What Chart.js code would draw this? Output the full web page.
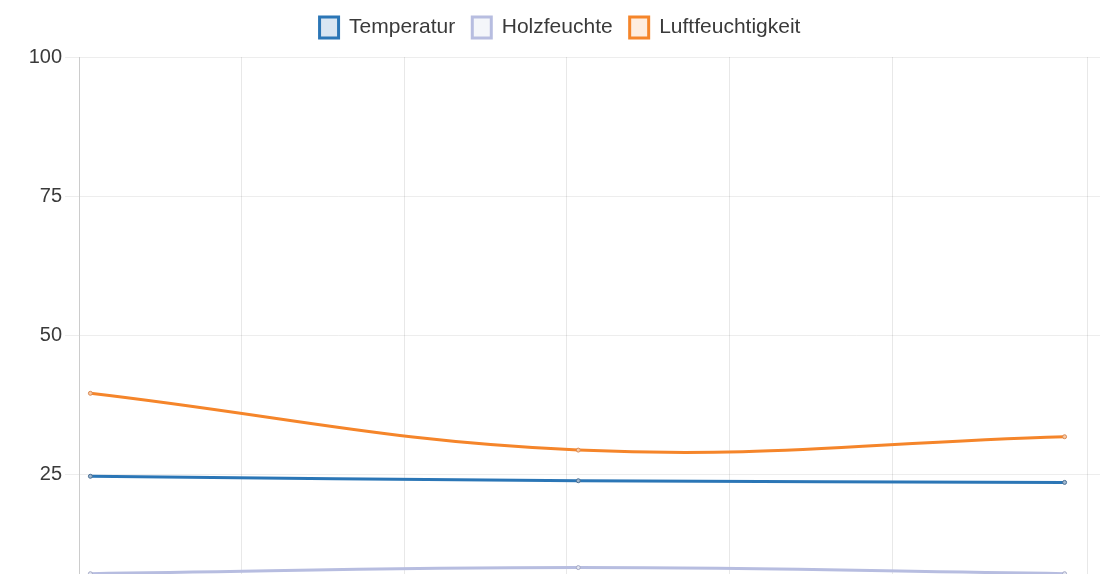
<!DOCTYPE html>
<html lang="de">
<head>
<meta charset="utf-8">
<title>Messwerte</title>
<script src="https://cdn.jsdelivr.net/npm/chart.js@4/dist/chart.umd.min.js"></script>
<style>
  html, body { margin: 0; padding: 0; background: #fff; overflow: hidden; }
  #wrap { position: absolute; left: 0; top: 0; width: 1120px; height: 657px; }
</style>
</head>
<body>
<div id="wrap"><canvas id="sensorChart"></canvas></div>
<script>
// Messzeitpunkte (Stunden seit Beginn) und Messwerte
const zeiten = [0.07, 3.07, 6.06];
const temperatur = [24.7, 23.9, 23.6];
const holzfeuchte = [7.2, 8.3, 7.2];
const luftfeuchtigkeit = [39.6, 29.4, 31.8];

// Rasterlinien der Zeitachse und Werteachse
const zeitTicks = [0, 1, 2, 3, 4, 5, 6.2];
const zeitLabels = ['08:00', '09:00', '10:00', '11:00', '12:00', '13:00', '14:12'];
const wertTicks = [0, 25, 50, 75, 100];

const toPoints = values => values.map((v, i) => ({ x: zeiten[i], y: v }));

// etwas mehr Abstand zwischen Legende und Diagrammfläche
const legendSpacing = {
  id: 'legendSpacing',
  beforeInit(chart) {
    const fit = chart.legend.fit;
    chart.legend.fit = function () {
      fit.call(this);
      this.height += 9;
    };
  }
};

const font = { family: 'Liberation Sans, Arial, sans-serif', size: 21 };

const ctx = document.getElementById('sensorChart').getContext('2d');
new Chart(ctx, {
  type: 'line',
  data: {
    datasets: [{
      label: 'Temperatur',
      data: toPoints(temperatur),
      borderColor: '#2b76b6',
      backgroundColor: 'rgba(43, 118, 182, 0.18)',
      borderWidth: 3,
      tension: 0.4,
      pointRadius: 2,
      pointBorderWidth: 1,
      pointBorderColor: '#4a6f93',
      pointBackgroundColor: '#9fb7cf',
      fill: false
    }, {
      label: 'Holzfeuchte',
      data: toPoints(holzfeuchte),
      borderColor: '#b7bde0',
      backgroundColor: 'rgba(200, 210, 228, 0.2)',
      borderWidth: 3,
      tension: 0.4,
      pointRadius: 2,
      pointBorderWidth: 1,
      pointBorderColor: '#a3a8c4',
      pointBackgroundColor: '#e3e6f2',
      fill: false
    }, {
      label: 'Luftfeuchtigkeit',
      data: toPoints(luftfeuchtigkeit),
      borderColor: '#f5852a',
      backgroundColor: 'rgba(245, 133, 42, 0.15)',
      borderWidth: 3,
      tension: 0.4,
      pointRadius: 2,
      pointBorderWidth: 1,
      pointBorderColor: '#d98a55',
      pointBackgroundColor: '#f7c9a3',
      fill: false
    }]
  },
  options: {
    responsive: true,
    maintainAspectRatio: false,
    animation: false,
    layout: { padding: { top: 0, left: 0, right: 0, bottom: 0 } },
    plugins: {
      legend: {
        display: true,
        labels: {
          boxWidth: 19,
          boxHeight: 21,
          padding: 17,
          color: '#3a3a3a',
          font: font
        }
      },
      tooltip: { enabled: false }
    },
    scales: {
      x: {
        type: 'linear',
        min: 0,
        max: 6.37,
        afterBuildTicks: axis => {
          axis.ticks = zeitTicks.map(v => ({ value: v }));
        },
        grid: { color: 'rgba(0, 0, 0, 0.09)', tickLength: 12 },
        border: { color: 'rgba(0, 0, 0, 0.12)' },
        ticks: {
          color: '#555',
          font: font,
          callback: (value, i) => zeitLabels[i]
        }
      },
      y: {
        min: 0,
        max: 100,
        afterBuildTicks: axis => {
          axis.ticks = wertTicks.map(v => ({ value: v }));
        },
        afterFit: axis => {
          axis.width = 79;
        },
        grid: { color: 'rgba(0, 0, 0, 0.07)', tickLength: 14 },
        border: { color: 'rgba(0, 0, 0, 0.12)' },
        ticks: {
          color: '#3a3a3a',
          padding: 3,
          font: { family: 'Liberation Sans, Arial, sans-serif', size: 20 }
        }
      }
    }
  },
  plugins: [legendSpacing]
});
</script>
</body>
</html>
